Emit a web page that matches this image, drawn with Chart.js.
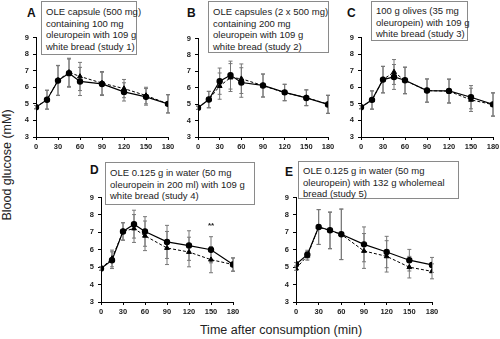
<!DOCTYPE html>
<html>
<head>
<meta charset="utf-8">
<script src="https://cdn.jsdelivr.net/npm/chart.js@4.4.0/dist/chart.umd.min.js"></script>
<style>
  body { margin: 0; width: 500px; height: 339px; background: #fff; overflow: hidden; position: relative; font-family: "Liberation Sans", Arial, sans-serif; }
  canvas { position: absolute; }
  .box { position: absolute; border: 1px solid #8a8a8a; box-sizing: border-box; font-size: 9.5px; line-height: 11.7px; color: #222; padding: 4px 0 0 4px; white-space: nowrap; background: #fff; }
  .lab { position: absolute; font-weight: bold; font-size: 12px; color: #111; }
  .title { position: absolute; font-size: 12.5px; color: #222; white-space: nowrap; }
</style>
</head>
<body>
<div class="lab" style="left:27px;top:6px">A</div>
<div class="lab" style="left:187px;top:6px">B</div>
<div class="lab" style="left:347px;top:6px">C</div>
<div class="lab" style="left:90px;top:163px">D</div>
<div class="lab" style="left:285px;top:165px">E</div>

<div class="box" style="left:41px;top:1px;width:96px;height:54px">OLE capsule (500 mg)<br>containing 100 mg<br>oleuropein with 109 g<br>white bread (study 1)</div>
<div class="box" style="left:208px;top:1px;width:121px;height:52px">OLE capsules (2 x 500 mg)<br>containing 200 mg<br>oleuropein with 109 g<br>white bread (study 2)</div>
<div class="box" style="left:371px;top:1px;width:97px;height:40px;padding-top:3px">100 g olives (35 mg<br>oleuropein) with 109 g<br>white bread (study 3)</div>
<div class="box" style="left:105px;top:162px;width:150px;height:43px;padding-top:4px">OLE 0.125 g in water (50 mg<br>oleuropein in 200 ml) with 109 g<br>white bread (study 4)</div>
<div class="box" style="left:298px;top:161px;width:161px;height:38px;padding-top:3px">OLE 0.125 g in water (50 mg<br>oleuropein) with 132 g wholemeal<br>bread (study 5)</div>

<div class="title" style="left:7px;top:165px;transform:translate(-50%,-50%) rotate(-90deg)">Blood glucose (mM)</div>
<div class="title" style="left:281px;top:330px;transform:translate(-50%,-50%)">Time after consumption (min)</div>

<canvas id="cA"></canvas>
<canvas id="cB"></canvas>
<canvas id="cC"></canvas>
<canvas id="cD"></canvas>
<canvas id="cE"></canvas>

<script>
// sampling times (min)
const times = [0, 15, 30, 45, 60, 90, 120, 150, 180];
const xTicks = [0, 30, 60, 90, 120, 150, 180];
const yTicks = [3, 4, 5, 6, 7, 8, 9];

// solid = circles, dashed = triangles; err = half error bar (mM)
const aSolid  = [4.8, 5.25, 6.4, 6.85, 6.35, 6.2, 5.72, 5.42, 5.0];
const aDashed = [4.8, 5.25, 6.42, 6.9, 6.65, 6.25, 5.92, 5.5, 5.0];
const aErr    = [0.1, 0.57, 0.9, 0.85, 0.85, 0.7, 0.55, 0.5, 0.55];

const bSolid  = [4.78, 5.28, 6.4, 6.77, 6.32, 6.14, 5.72, 5.38, 4.98];
const bDashed = [4.78, 5.28, 6.1, 6.62, 6.55, 6.13, 5.7, 5.4, 5.0];
const bErr    = [0.1, 0.5, 0.8, 0.85, 0.9, 0.7, 0.5, 0.48, 0.55];

const cSolid  = [4.8, 5.24, 6.46, 6.62, 6.42, 5.8, 5.78, 5.4, 4.97];
const cDashed = [4.8, 5.22, 6.46, 6.92, 6.4, 5.8, 5.76, 5.24, 4.95];
const cErr    = [0.1, 0.55, 0.8, 0.75, 0.8, 0.7, 0.72, 0.7, 0.7];

const dSolid  = [4.92, 5.4, 7.05, 7.47, 7.05, 6.45, 6.24, 6.0, 5.15];
const dDashed = [4.92, 5.5, 7.05, 7.22, 6.8, 6.1, 5.87, 5.43, 5.15];
const dErr    = [0.1, 0.48, 0.5, 0.8, 0.85, 0.95, 0.85, 0.75, 0.38];
const dSig    = [{ x: 150, y: 7.35, text: '**' }];

const eSolid  = [5.17, 5.72, 7.31, 7.12, 6.89, 6.31, 5.87, 5.4, 5.13];
const eDashed = [4.92, 5.65, 7.3, 7.1, 6.88, 5.93, 5.62, 5.0, 4.76];
const eErr    = [0.1, 0.25, 1.0, 1.05, 1.45, 1.0, 0.9, 0.62, 0.43];

// error bars drawn under the markers
const errorBars = {
  id: 'errorBars',
  beforeDatasetsDraw(chart) {
    const ctx = chart.ctx, ys = chart.scales.y;
    ctx.save();
    ctx.strokeStyle = '#777';
    ctx.lineWidth = 1;
    chart.data.datasets.forEach((ds, i) => {
      chart.getDatasetMeta(i).data.forEach((pt, j) => {
        const v = ds.data[j].y, e = ds.err[j];
        const top = ys.getPixelForValue(v + e), bot = ys.getPixelForValue(v - e);
        ctx.beginPath();
        ctx.moveTo(pt.x, top); ctx.lineTo(pt.x, bot);
        ctx.moveTo(pt.x - 2, top); ctx.lineTo(pt.x + 2, top);
        ctx.moveTo(pt.x - 2, bot); ctx.lineTo(pt.x + 2, bot);
        ctx.stroke();
      });
    });
    ctx.restore();
  },
  afterDatasetsDraw(chart, args, opts) {
    const ctx = chart.ctx;
    (opts.marks || []).forEach(m => {
      ctx.save();
      ctx.fillStyle = '#222';
      ctx.font = 'bold 8px "Liberation Sans", Arial';
      ctx.textAlign = 'center';
      ctx.textBaseline = 'middle';
      ctx.fillText(m.text, chart.scales.x.getPixelForValue(m.x), chart.scales.y.getPixelForValue(m.y));
      ctx.restore();
    });
  }
};

function panel(id, L, R, T, B, solid, dashed, err, marks) {
  const yw = 22, xh = 18, padT = 8, padR = 9;
  const cv = document.getElementById(id);
  cv.style.left = (L - yw) + 'px';
  cv.style.top = (T - padT) + 'px';
  cv.width = R - L + yw + padR;
  cv.height = B - T + padT + xh;
  const pts = arr => times.map((t, i) => ({ x: t, y: arr[i] }));
  const tickFont = { family: '"Liberation Sans", Arial', size: 7.5, weight: 'bold' };
  new Chart(cv.getContext('2d'), {
    type: 'line',
    data: {
      datasets: [
        { data: pts(solid), err: err, borderColor: '#000', borderWidth: 1.2, pointStyle: 'circle',
          pointRadius: 2.6, pointBackgroundColor: '#000', pointBorderColor: '#000', tension: 0 },
        { data: pts(dashed), err: err, borderColor: '#000', borderWidth: 1, borderDash: [3, 2], pointStyle: 'triangle',
          pointRadius: 2.8, pointBackgroundColor: '#000', pointBorderColor: '#000', tension: 0 }
      ]
    },
    options: {
      responsive: false,
      animation: false,
      layout: { padding: { top: padT, right: padR, left: 0, bottom: 0 } },
      plugins: { legend: { display: false }, tooltip: { enabled: false }, errorBars: { marks: marks } },
      scales: {
        x: {
          type: 'linear', min: 0, max: 180,
          afterFit: s => { s.height = xh; },
          afterBuildTicks: s => { s.ticks = xTicks.map(v => ({ value: v })); },
          grid: { drawOnChartArea: false, color: '#000', tickLength: 3 },
          border: { color: '#000', width: 1 },
          ticks: { color: '#222', font: tickFont, padding: 2, maxRotation: 0 }
        },
        y: {
          min: 3, max: 9,
          afterFit: s => { s.width = yw; },
          afterBuildTicks: s => { s.ticks = yTicks.map(v => ({ value: v })); },
          grid: { drawOnChartArea: false, color: '#000', tickLength: 3 },
          border: { color: '#000', width: 1 },
          ticks: { color: '#222', font: tickFont, padding: 4 }
        }
      }
    },
    plugins: [errorBars]
  });
}

panel('cA', 36, 168, 37, 137, aSolid, aDashed, aErr, []);
panel('cB', 198, 328, 38, 137, bSolid, bDashed, bErr, []);
panel('cC', 361, 493, 37, 137, cSolid, cDashed, cErr, []);
panel('cD', 101, 233, 197, 302, dSolid, dDashed, dErr, dSig);
panel('cE', 296, 432, 197, 302, eSolid, eDashed, eErr, []);
</script>
</body>
</html>
